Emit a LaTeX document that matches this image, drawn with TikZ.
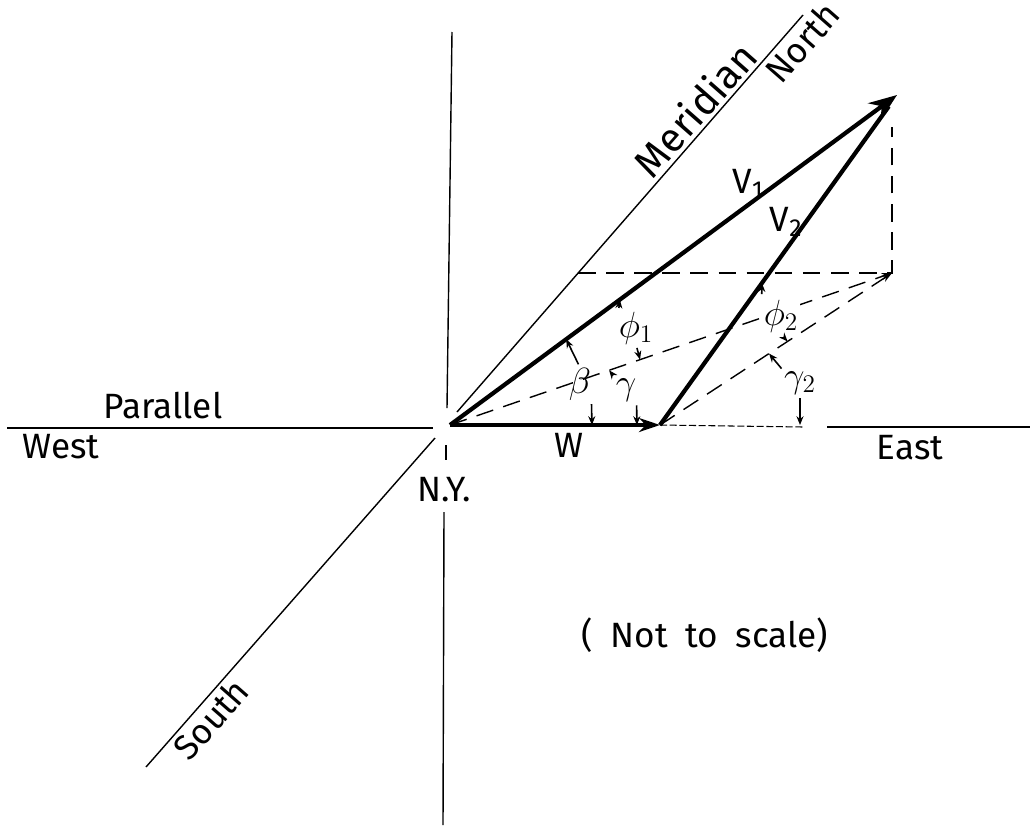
\documentclass[tikz,border=0pt]{standalone}
\usepackage{fontspec}
\setmainfont{Fira Sans}
\usepackage{tikz}
\usetikzlibrary{arrows.meta, calc}

\begin{document}
\begin{tikzpicture}[x=0.02cm, y=-0.02cm,
    axis/.style={line width=0.8pt},
    vec/.style={line width=2.4pt},
    aux/.style={line width=0.8pt, dash pattern=on 10pt off 6pt},
    ang/.style={line width=0.9pt, shorten <=2pt, -{Stealth[length=5pt, width=4pt]}},
    lbl/.style={inner sep=0pt, font=\fontsize{20}{24}\selectfont},
    diag/.style={lbl, rotate=48.7, inner sep=2pt}]

    \useasboundingbox (0,0) rectangle (1031,825);

    % main points
    \coordinate (O) at (450,425);
    \coordinate (Wt) at (660,425);
    \coordinate (T) at (897,95);
    \coordinate (P) at (892,273);
    \coordinate (Q) at (892,127);
    \coordinate (H) at (578,273);

    % axis ends
    \coordinate (west) at (7,428);
    \coordinate (westin) at (433,428);
    \coordinate (gap) at (803,427);
    \coordinate (eastin) at (827,427);
    \coordinate (east) at (1030,427);
    \coordinate (top) at (452,32);
    \coordinate (topin) at (447,408);
    \coordinate (midup) at (446,445);
    \coordinate (midlo) at (446,460);
    \coordinate (botin) at (444,512);
    \coordinate (bot) at (443,825);
    \coordinate (south) at (146,767);
    \coordinate (southin) at (435,438);
    \coordinate (northin) at (457,412);
    \coordinate (north) at (803,15);

    \draw[axis] (west) -- (westin);
    \draw[axis, line width=0.6pt, dash pattern=on 4pt off 1.5pt] (Wt) -- (gap);
    \draw[axis] (eastin) -- (east);
    \draw[axis] (top) -- (topin);
    \draw[axis] (midup) -- (midlo);
    \draw[axis] (botin) -- (bot);
    \draw[axis] (south) -- (southin);
    \draw[axis] (northin) -- (north);

    % axis labels
    \node[lbl] (par) at (163,406) {Parallel};
    \node[lbl] (wlab) at (61,447) {West};
    \node[lbl] (elab) at (910,448) {East};
    \node[lbl] (ny) at (444,490) {N.Y.};
    \node[diag, anchor=south, font=\fontsize{23}{26}\selectfont] (mer) at ($(northin)!0.73!(north)$) {Meridian};
    \node[diag, anchor=north] (nor) at ($(northin)!0.96!(north)$) {North};
    \node[diag, anchor=north] (sou) at ($(south)!0.18!(southin)$) {South};
    \node[lbl] (note) at (705,635) {(\enspace Not\enspace to\enspace scale)};

    % dashed construction
    \draw[aux] (H) -- (P) -- (Q);
    \draw[aux, -{Stealth[length=6pt, width=4pt]}] (O) -- (P);
    \draw[aux, -{Stealth[length=6pt, width=4pt]}] (Wt) -- (P);

    % vectors
    \draw[vec, -{Stealth[length=16pt, width=12pt]}] (O) -- (T);
    \draw[vec, shorten >=8pt] (Wt) -- (T);
    \draw[vec, -{Stealth[length=12pt, width=8pt]}] (O) -- (Wt);

    \node[lbl] (v1) at (748,184) {V\textsubscript{1}};
    \node[lbl] (v2) at (786,222) {V\textsubscript{2}};
    \node[lbl] (w) at (569,445) {W};

    % angles
    \node[lbl] (beta) at (580,384) {$\beta$};
    \node[lbl] (gam) at (626,390) {$\gamma$};
    \node[lbl] (phi1) at (636,328) {$\phi_1$};
    \node[lbl, fill=white, inner sep=1pt] (phi2) at (781,316) {$\phi_2$};
    \node[lbl] (gam2) at (800,383) {$\gamma_2$};

    \draw[ang] (beta.north) -- ($(O)!0.26!(T)$);
    \draw[ang] (beta.south east) -- ($(O)!0.676!(Wt)$);
    \draw[ang] (gam.north west) -- ($(O)!0.36!(P)$);
    \draw[ang] (gam.south east) -- ($(O)!0.89!(Wt)$);
    \draw[ang] (phi1.north west) -- ($(O)!0.38!(T)$);
    \draw[ang] (phi1.south) -- ($(O)!0.43!(P)$);
    \draw[ang] (phi2.north west) -- ($(Wt)!0.43!(T)$);
    \draw[ang] (phi2.south) -- ($(Wt)!0.55!(P)$);
    \draw[ang] (gam2.north west) -- ($(Wt)!0.47!(P)$);
    \draw[ang] (gam2.south) -- (gam2.south |- Wt);
\end{tikzpicture}
\end{document}
